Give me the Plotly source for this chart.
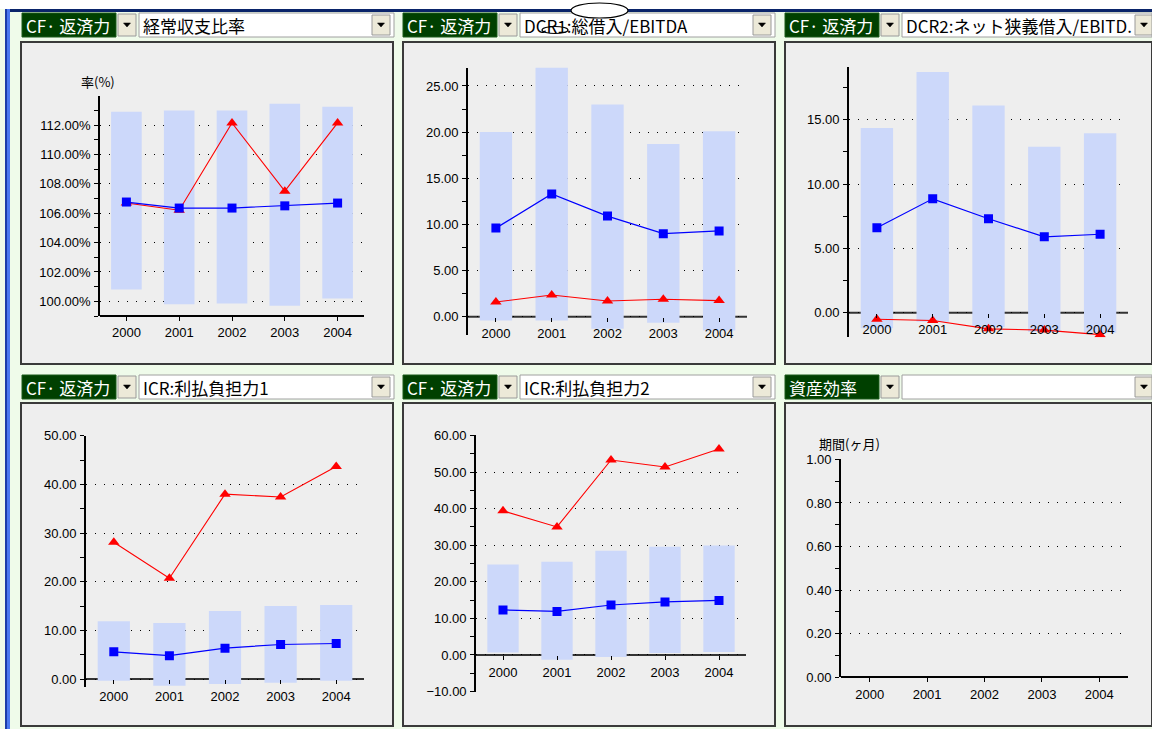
import plotly.graph_objects as go

W, H = 1152, 729

years = ["2000", "2001", "2002", "2003", "2004"]

# 経常収支比率 (%)
ordinary_low = [100.8, 99.8, 99.85, 99.7, 100.2]
ordinary_high = [112.9, 113.0, 113.0, 113.45, 113.25]
ordinary_median = [106.76, 106.35, 106.35, 106.5, 106.69]
ordinary_company = [106.7, 106.2, 112.15, 107.5, 112.15]

# DCR1: 総借入/EBITDA
dcr1_low = [-0.4, -0.4, -1.3, -0.65, -1.5]
dcr1_high = [20.0, 27.0, 23.0, 18.7, 20.1]
dcr1_median = [9.6, 13.3, 10.9, 9.0, 9.3]
dcr1_company = [1.6, 2.35, 1.7, 1.9, 1.75]

# DCR2: ネット狭義借入/EBITDA
dcr2_low = [-1.2, -0.7, -1.1, -1.5, -1.55]
dcr2_high = [14.35, 18.7, 16.1, 12.9, 13.95]
dcr2_median = [6.6, 8.85, 7.3, 5.9, 6.1]
dcr2_company = [-0.5, -0.6, -1.25, -1.35, -1.7]

# ICR: 利払負担力1
icr1_low = [-0.35, -1.4, -1.0, -0.75, -0.35]
icr1_high = [11.9, 11.5, 14.0, 15.0, 15.2]
icr1_median = [5.6, 4.8, 6.35, 7.1, 7.3]
icr1_company = [28.1, 20.7, 38.0, 37.4, 43.7]

# ICR: 利払負担力2
icr2_low = [0.7, -1.3, -0.55, 0.55, 0.8]
icr2_high = [24.7, 25.5, 28.5, 29.6, 29.9]
icr2_median = [12.3, 11.9, 13.65, 14.5, 14.9]
icr2_company = [39.4, 35.0, 53.3, 51.4, 56.3]

group_labels = ["CF· 返済力", "CF· 返済力", "CF· 返済力", "CF· 返済力", "CF· 返済力", "資産効率"]
indicator_labels = ["経常収支比率", "DCR1:総借入/EBITDA", "DCR2:ネット狭義借入/EBITD.",
                    "ICR:利払負担力1", "ICR:利払負担力2", ""]
axis_titles = ["率(%)", None, None, None, None, "期間(ヶ月)"]

series = [
    (ordinary_low, ordinary_high, ordinary_median, ordinary_company),
    (dcr1_low, dcr1_high, dcr1_median, dcr1_company),
    (dcr2_low, dcr2_high, dcr2_median, dcr2_company),
    (icr1_low, icr1_high, icr1_median, icr1_company),
    (icr2_low, icr2_high, icr2_median, icr2_company),
    None,
]

# plot-area geometry in pixels (left, right, top, bottom) and value axes
panels = [
    dict(px=(100, 364, 96, 316), rng=[99, 113.98], dtick=2, tick0=100, minor=1, suffix="%", zero=False),
    dict(px=(468, 747, 67.5, 335.2), rng=[-2, 27], dtick=5, tick0=0, minor=2.5, suffix="", zero=True),
    dict(px=(849, 1128, 66.9, 337.2), rng=[-1.9, 19.1], dtick=5, tick0=0, minor=2.5, suffix="", zero=True),
    dict(px=(86, 364, 435.5, 687.3), rng=[-1.7, 50.05], dtick=10, tick0=0, minor=5, suffix="", zero=True),
    dict(px=(476, 746, 435.3, 691.7), rng=[-10.05, 60.05], dtick=10, tick0=0, minor=5, suffix="", zero=True),
    dict(px=(841, 1128, 458.7, 677.3), rng=[0, 1.003], dtick=0.2, tick0=0, minor=0.1, suffix="", zero=False),
]

# panel frames / headers (column left edge, row top of header, frame box)
cols = [22, 403, 785]
header_rows = [13, 375]
frames = [(21, 42, 393, 364), (403, 42, 775, 364), (785, 42, 1162, 364),
          (21, 403, 393, 726), (403, 403, 775, 726), (785, 403, 1162, 726)]
title_pos = [(98, 81), None, None, None, None, (849, 443)]

BAR = "#ccd8fa"
PANEL_BG = "#eeeeee"
PAGE_BG = "#effbea"
FONT_UI = "Noto Sans CJK JP, sans-serif"
FONT_TICK = "Liberation Sans, Arial, sans-serif"


def fx(x):
    return x / W


def fy(y):
    return 1 - y / H


def rect(x0, y0, x1, y1, fill, line=None, lw=0, layer="below"):
    return dict(type="rect", xref="paper", yref="paper",
                x0=fx(x0), x1=fx(min(x1, W)), y0=fy(y1), y1=fy(y0),
                fillcolor=fill, line=dict(color=line or fill, width=lw), layer=layer)


def down_arrow(cx, cy):
    path = "M {:.5f},{:.5f} L {:.5f},{:.5f} L {:.5f},{:.5f} Z".format(
        fx(cx - 3.5), fy(cy - 2), fx(cx + 3.5), fy(cy - 2), fx(cx), fy(cy + 2))
    return dict(type="path", xref="paper", yref="paper", path=path,
                fillcolor="black", line=dict(color="black", width=0.5), layer="below")


fig = go.Figure()
shapes = []
annotations = []

# window chrome
shapes.append(rect(0, 0, W, 9, "white"))
shapes.append(rect(5, 9, W, 12, "#0a246a"))
shapes.append(rect(5, 9, 7, H, "#1c3ca8"))
shapes.append(rect(7, 9, 10, H, "#4a78f0"))

for i, p in enumerate(panels):
    n = i + 1
    xs = "" if n == 1 else str(n)
    left, right, top, bottom = p["px"]
    xd = [fx(left), fx(right)]
    yd = [fy(bottom), fy(top)]
    r0, r1 = p["rng"]
    zero_frac = (0 - r0) / (r1 - r0)
    xpos = yd[0] + zero_frac * (yd[1] - yd[0]) if p["zero"] else yd[0]

    fig.layout["xaxis" + xs] = dict(
        domain=xd, range=[-0.5, 4.5], anchor="free", position=xpos,
        tickmode="array", tickvals=list(range(len(years))), ticktext=years,
        showgrid=False, zeroline=False, showline=not p["zero"],
        linecolor="black", linewidth=1.6, automargin=False,
        ticks="outside", ticklen=4, tickwidth=1.3, tickcolor="black",
        tickfont=dict(family=FONT_TICK, size=13, color="black"),
        ticklabelstandoff=1, fixedrange=True,
    )
    fig.layout["yaxis" + xs] = dict(
        domain=yd, range=p["rng"], anchor="x" + xs, automargin=False,
        tick0=p["tick0"], dtick=p["dtick"], tickformat=".2f", ticksuffix=p["suffix"],
        showline=True, linecolor="black", linewidth=1.6,
        ticks="outside", ticklen=4, tickwidth=1.3, tickcolor="black",
        minor=dict(tick0=p["tick0"], dtick=p["minor"], ticks="outside", ticklen=4,
                   tickwidth=1.3, tickcolor="black", showgrid=False),
        showgrid=True, gridcolor="#000000", gridwidth=1.2, griddash="1px,8px",
        zeroline=False, tickfont=dict(family=FONT_TICK, size=13, color="black"),
        ticklabelstandoff=1, fixedrange=True,
    )

    xi = list(range(len(years)))
    s = series[i]
    if s is not None:
        low, high, med, comp = s
        fig.add_trace(go.Bar(
            x=xi, y=[h - l for h, l in zip(high, low)], base=low, width=0.58,
            marker=dict(color=BAR, line=dict(width=0)),
            xaxis="x" + xs, yaxis="y" + xs, showlegend=False, hoverinfo="skip"))
        fig.add_trace(go.Scatter(
            x=xi, y=comp, mode="lines+markers",
            line=dict(color="#ff0000", width=1.1),
            marker=dict(symbol="triangle-up", size=10, color="#ff0000"),
            xaxis="x" + xs, yaxis="y" + xs, showlegend=False))
        fig.add_trace(go.Scatter(
            x=xi, y=med, mode="lines+markers",
            line=dict(color="#0000ff", width=1.2),
            marker=dict(symbol="square", size=9, color="#0000ff"),
            xaxis="x" + xs, yaxis="y" + xs, showlegend=False))
    else:
        fig.add_trace(go.Scatter(
            x=xi, y=[None] * len(xi), mode="lines",
            xaxis="x" + xs, yaxis="y" + xs, showlegend=False, hoverinfo="skip"))

    # frame
    f = frames[i]
    shapes.append(rect(f[0], f[1], f[2], f[3], PANEL_BG, line="#3a3a3a", lw=2))

    # horizontal axis at the zero level, kept beneath the bars
    if p["zero"]:
        zy = bottom - zero_frac * (bottom - top)
        shapes.append(rect(left, zy - 1, right, zy + 1, "#333333"))

    # header controls
    cx0 = cols[i % 3]
    hy0 = header_rows[i // 3]
    hy1 = hy0 + 24
    shapes.append(rect(cx0, hy0, cx0 + 94, hy1, "#004000", line="#1a5a1a", lw=1))
    shapes.append(rect(cx0 + 96, hy0 + 1, cx0 + 114, hy1 - 1, "#ece9d8", line="#9a9a9a", lw=1))
    shapes.append(down_arrow(cx0 + 105, hy0 + 12))
    shapes.append(rect(cx0 + 117, hy0, cx0 + 372, hy1, "white", line="#a0a0a0", lw=1))
    ax0 = min(cx0 + 350, W - 16)
    shapes.append(rect(ax0, hy0 + 2, ax0 + 18, hy1 - 2, "#ece9d8", line="#9a9a9a", lw=1))
    shapes.append(down_arrow(ax0 + 9, hy0 + 12))

    annotations.append(dict(xref="paper", yref="paper", x=fx(cx0 + 2), y=fy(hy0 + 12.5),
                            text=group_labels[i], showarrow=False, xanchor="left",
                            yanchor="middle",
                            font=dict(family=FONT_UI, size=17, color="white")))
    if indicator_labels[i]:
        annotations.append(dict(xref="paper", yref="paper", x=fx(cx0 + 119), y=fy(hy0 + 12.5),
                                text=indicator_labels[i], showarrow=False, xanchor="left",
                                yanchor="middle",
                                font=dict(family=FONT_UI, size=17, color="black")))
    if axis_titles[i]:
        tx, ty = title_pos[i]
        annotations.append(dict(xref="paper", yref="paper", x=fx(tx), y=fy(ty),
                                text=axis_titles[i], showarrow=False, xanchor="center",
                                yanchor="middle",
                                font=dict(family=FONT_UI, size=13, color="black")))

# callout ovals
shapes.append(dict(type="circle", xref="paper", yref="paper",
                   x0=fx(571), x1=fx(628), y0=fy(18), y1=fy(3),
                   fillcolor="white", line=dict(color="black", width=1.2), layer="above"))
shapes.append(dict(type="circle", xref="paper", yref="paper",
                   x0=fx(542), x1=fx(568), y0=fy(33.5), y1=fy(26.5),
                   fillcolor="rgba(0,0,0,0)", line=dict(color="black", width=1.2), layer="above"))

fig.update_layout(
    width=W, height=H, margin=dict(l=0, r=0, t=0, b=0, pad=0, autoexpand=False),
    paper_bgcolor=PAGE_BG, plot_bgcolor="rgba(0,0,0,0)",
    shapes=shapes, annotations=annotations, barmode="overlay",
    showlegend=False, hovermode=False,
)

fig.write_html("out.html", config=dict(displayModeBar=False))
